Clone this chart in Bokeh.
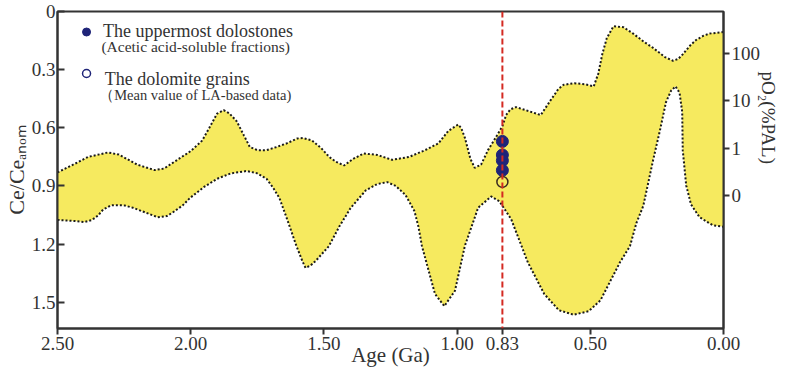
from bokeh.plotting import figure
from bokeh.models import Range1d, LinearAxis, FixedTicker, Span
from bokeh.core.properties import value
from bokeh.embed import file_html
from bokeh.resources import INLINE

# ---------------- data ----------------
# upper boundary of the yellow envelope (Age in Ga, Ce/Ce_anom)
age_upper = [2.50, 2.44, 2.385, 2.31, 2.27, 2.20, 2.136, 2.10, 2.05, 2.00, 1.957, 1.93, 1.901,
             1.876, 1.855, 1.827, 1.80, 1.778, 1.75, 1.715, 1.68, 1.641, 1.60, 1.578, 1.545,
             1.51, 1.48, 1.455, 1.424, 1.39, 1.35, 1.30, 1.244, 1.18, 1.12, 1.07, 1.033, 0.996,
             0.985, 0.971, 0.95, 0.934, 0.91, 0.884, 0.855, 0.83, 0.816, 0.80, 0.779, 0.74,
             0.686, 0.65, 0.62, 0.60, 0.56, 0.52, 0.487, 0.47, 0.455, 0.438, 0.413, 0.376,
             0.339, 0.30, 0.264, 0.22, 0.19, 0.17, 0.153, 0.125, 0.103, 0.075, 0.053, 0.0]
ce_upper = [0.830, 0.789, 0.750, 0.727, 0.738, 0.790, 0.818, 0.810, 0.765, 0.720, 0.666, 0.600,
            0.527, 0.509, 0.525, 0.567, 0.640, 0.699, 0.715, 0.715, 0.700, 0.681, 0.655, 0.6525,
            0.665, 0.705, 0.750, 0.775, 0.794, 0.760, 0.732, 0.740, 0.765, 0.750, 0.715, 0.680,
            0.616, 0.583, 0.600, 0.650, 0.760, 0.806, 0.790, 0.715, 0.650, 0.592, 0.534, 0.505,
            0.493, 0.510, 0.534, 0.460, 0.400, 0.378, 0.370, 0.375, 0.386, 0.320, 0.220, 0.137,
            0.076, 0.081, 0.114, 0.155, 0.188, 0.235, 0.254, 0.245, 0.221, 0.175, 0.147, 0.125,
            0.114, 0.106]

# lower boundary of the yellow envelope
age_lower = [2.50, 2.44, 2.40, 2.37, 2.347, 2.329, 2.30, 2.285, 2.25, 2.217, 2.161, 2.124, 2.09,
             2.068, 2.03, 2.003, 1.95, 1.901, 1.85, 1.789, 1.75, 1.715, 1.69, 1.667, 1.641,
             1.603, 1.58, 1.569, 1.55, 1.529, 1.481, 1.443, 1.399, 1.343, 1.30, 1.262, 1.23,
             1.194, 1.16, 1.145, 1.132, 1.083, 1.048, 1.008, 0.971, 0.946, 0.921, 0.872, 0.841,
             0.797, 0.735, 0.673, 0.618, 0.562, 0.506, 0.462, 0.388, 0.351, 0.327, 0.301, 0.264,
             0.239, 0.216, 0.197, 0.180, 0.165, 0.155, 0.153, 0.140, 0.122, 0.09, 0.041, 0.0]
ce_lower = [1.075, 1.080, 1.086, 1.075, 1.051, 1.022, 1.000, 0.9985, 1.000, 1.012, 1.0415, 1.061,
            1.055, 1.037, 1.000, 0.962, 0.905, 0.863, 0.835, 0.8225, 0.835, 0.863, 0.910, 0.962,
            1.060, 1.2096, 1.290, 1.322, 1.310, 1.2837, 1.2096, 1.1107, 1.012, 0.923, 0.890,
            0.880, 0.900, 0.946, 1.030, 1.1107, 1.2096, 1.4568, 1.5195, 1.4404, 1.2096, 1.1107,
            1.012, 0.954, 0.979, 1.071, 1.292, 1.4568, 1.5408, 1.564, 1.5457, 1.4898, 1.292,
            1.210, 1.091, 1.002, 0.765, 0.616, 0.468, 0.409, 0.386, 0.419, 0.518, 0.715, 0.897,
            0.995, 1.061, 1.102, 1.110]

# samples at 0.83 Ga
sample_age = 0.83
dolostone_ce = [0.670, 0.740, 0.769, 0.819]
grain_ce = [0.879]

# axis ticks
age_ticks = [2.5, 2.0, 1.5, 1.0, 0.83, 0.5, 0.0]
age_tick_labels = ["2.50", "2.00", "1.50", "1.00", "0.83", "0.50", "0.00"]
ce_ticks = [0.0, 0.3, 0.6, 0.9, 1.2, 1.5]
ce_tick_labels = ["0", "0.3", "0.6", "0.9", "1.2", "1.5"]
po2_ticks = [0.2185, 0.4615, 0.7045, 0.9475]
po2_tick_labels = ["100", "10", "1", "0"]

# ---------------- styling ----------------
SERIF = "Liberation Serif"
AX = "#333333"
YELLOW = "#f6ea5f"
NAVY = "#1f2478"

W, H = 782, 372
ML, MR, MT, MB = 51, 59, 11, 44
Y_MAX = 1.635

p = figure(width=W, height=H, output_backend="svg", toolbar_location=None,
           x_range=Range1d(2.5, 0.0), y_range=Range1d(Y_MAX, 0.0),
           min_border_left=ML, min_border_right=MR, min_border_top=MT, min_border_bottom=MB)
p.grid.visible = False
p.outline_line_color = AX
p.outline_line_width = 2

# reference-image pixel -> data helpers (used only to place the legend)
def xd(px):
    return 2.5 - (px - 59) / 268.8
def yd(py):
    return (py - 5.3) / 202.3

# envelope
patch_x = age_upper + age_lower[::-1]
patch_y = ce_upper + ce_lower[::-1]
p.patch(patch_x, patch_y, fill_color=YELLOW, line_color=None)
p.line(age_upper, ce_upper, line_color="#1a1a1a", line_width=2, line_dash="2 2")
p.line(age_lower, ce_lower, line_color="#1a1a1a", line_width=2, line_dash="2 2")

# samples
p.scatter([sample_age] * len(dolostone_ce), dolostone_ce, size=12, marker="circle",
          fill_color=NAVY, line_color=NAVY, line_width=1)
p.scatter([sample_age] * len(grain_ce), grain_ce, size=11, marker="circle",
          fill_color=None, line_color="#3a2a20", line_width=1.5)

# red dashed line at 0.83 Ga
p.add_layout(Span(location=sample_age, dimension="height", line_color="#d42a22",
                  line_dash="6 3", line_width=2))

# axes
xa = p.xaxis[0]
xa.ticker = FixedTicker(ticks=age_ticks)
xa.major_label_overrides = {t: l for t, l in zip(age_ticks, age_tick_labels)}
xa.axis_label = "Age (Ga)"
xa.axis_label_text_font_size = "21px"
xa.axis_label_standoff = -10

ya = p.yaxis[0]
ya.ticker = FixedTicker(ticks=ce_ticks)
ya.major_label_overrides = {t: l for t, l in zip(ce_ticks, ce_tick_labels)}
ya.axis_label = "Ce/Ce\u2090\u2099\u2092\u2098"
ya.axis_label_text_font_size = "22px"
ya.axis_label_standoff = 0

ra = LinearAxis(ticker=FixedTicker(ticks=po2_ticks))
ra.major_label_overrides = {t: l for t, l in zip(po2_ticks, po2_tick_labels)}
# trailing no-break spaces lift the title toward the upper part of the axis, as in the original
ra.axis_label = "pO\u2082(%PAL)" + "\u00a0" * 22
ra.axis_label_text_font_size = "19px"
ra.axis_label_standoff = -5
p.add_layout(ra, "right")

for ax in (xa, ya, ra):
    ax.axis_line_color = AX
    ax.axis_line_width = 2
    ax.major_tick_line_color = AX
    ax.major_tick_line_width = 2
    ax.minor_tick_line_color = None
    ax.major_label_text_font = SERIF
    ax.major_label_text_font_size = "19px"
    ax.major_label_text_color = AX
    ax.axis_label_text_font = SERIF
    ax.axis_label_text_font_style = "normal"
    ax.axis_label_text_color = AX
ya.major_tick_in = 7
ya.major_tick_out = 0
ya.major_label_standoff = 2
xa.major_tick_in = 0
xa.major_tick_out = 6
xa.major_label_standoff = 2
ra.major_tick_in = 0
ra.major_tick_out = 6
ra.major_label_standoff = 2

# legend
p.scatter([xd(88.3)], [yd(26.7)], size=8, marker="circle", fill_color=NAVY, line_color=NAVY)
p.scatter([xd(88.3)], [yd(70)], size=8, marker="circle", fill_color=None,
          line_color=NAVY, line_width=1.5)

def txt(fig, x, y, s, size):
    fig.text(x=[x], y=[y], text=[s], text_font=value(SERIF), text_font_size=size,
             text_color=AX, text_align="left", text_baseline="alphabetic")

txt(p, xd(105), yd(25.7), "The uppermost dolostones", "18px")
txt(p, xd(103.3), yd(42), "(Acetic acid-soluble fractions)", "15.5px")
txt(p, xd(106.7), yd(76), "The dolomite grains", "18px")
txt(p, xd(101), yd(92.3), "（Mean value of LA-based data)", "14.5px")

open("out.html", "w").write(file_html(p, INLINE))
